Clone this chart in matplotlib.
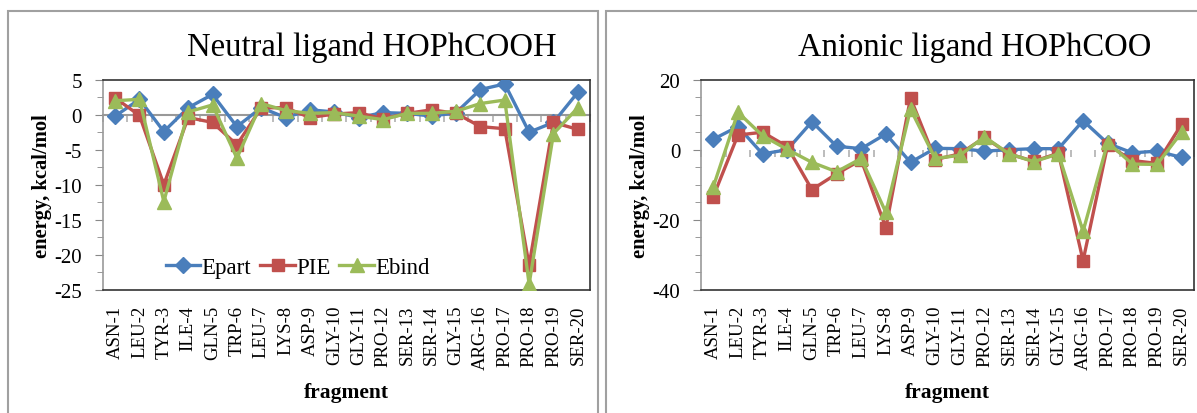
import matplotlib
matplotlib.use("Agg")
import matplotlib.pyplot as plt
from matplotlib.patches import Rectangle
from matplotlib.ticker import MultipleLocator

plt.rcParams["font.family"] = ["Liberation Serif", "DejaVu Serif"]
plt.rcParams["axes.unicode_minus"] = False

# -----------------------------------------------------------------------
# Data (kcal/mol)
# -----------------------------------------------------------------------
FRAGMENTS = ["ASN-1", "LEU-2", "TYR-3", "ILE-4", "GLN-5", "TRP-6", "LEU-7",
             "LYS-8", "ASP-9", "GLY-10", "GLY-11", "PRO-12", "SER-13",
             "SER-14", "GLY-15", "ARG-16", "PRO-17", "PRO-18", "PRO-19",
             "SER-20"]

neutral_epart = [-0.2, 2.2, -2.4, 1.0, 2.9, -1.7, 1.0, -0.4, 0.7, 0.4,
                 -0.4, 0.3, 0.2, -0.2, 0.3, 3.6, 4.4, -2.5, -1.1, 3.2]
neutral_pie = [2.4, -0.1, -10.0, -0.4, -1.1, -4.3, 1.0, 1.0, -0.4, 0.1,
               0.3, -0.6, 0.2, 0.7, 0.2, -1.7, -2.0, -21.5, -1.1, -2.1]
neutral_ebind = [2.0, 2.2, -12.4, 0.4, 1.4, -6.2, 1.6, 0.6, 0.2, 0.3,
                 -0.2, -0.7, 0.2, 0.2, 0.5, 1.6, 2.1, -24.2, -2.7, 1.0]

anionic_epart = [3.0, 6.6, -1.2, 0.0, 8.0, 1.0, 0.3, 4.5, -3.6, 0.4,
                 0.3, -0.4, 0.0, 0.3, 0.3, 8.3, 1.8, -0.9, -0.4, -2.2]
anionic_pie = [-13.4, 4.2, 5.0, 0.9, -11.4, -6.9, -2.9, -22.3, 14.8, -2.8,
               -1.2, 3.5, -1.2, -3.3, -1.0, -31.7, 1.4, -3.1, -3.9, 7.3]
anionic_ebind = [-10.6, 10.7, 4.0, 0.1, -3.6, -6.3, -2.5, -17.9, 11.6, -2.5,
                 -1.6, 3.7, -1.2, -3.4, -1.2, -23.3, 2.1, -4.1, -4.2, 5.0]

BLUE = "#4A7EBB"
RED = "#C0504D"
GREEN = "#9BBB59"


def draw_panel(ax, epart, pie, ebind, ylim, ymajor, yminor, zero_line):
    x = list(range(len(FRAGMENTS)))
    ax.plot(x, epart, "-D", color=BLUE, lw=2.4, ms=8, label="Epart", zorder=3)
    ax.plot(x, pie, "-s", color=RED, lw=2.4, ms=9, label="PIE", zorder=4)
    ax.plot(x, ebind, "-^", color=GREEN, lw=2.4, ms=10, label="Ebind", zorder=5)

    ax.set_xlim(-0.5, len(FRAGMENTS) - 0.5)
    ax.set_ylim(*ylim)
    ax.set_xticks(x)
    ax.set_xticklabels(FRAGMENTS, rotation=90, fontsize=13.5)
    ax.tick_params(axis="x", length=0, pad=11)
    ax.yaxis.set_major_locator(MultipleLocator(ymajor))
    ax.yaxis.set_minor_locator(MultipleLocator(yminor))
    ax.tick_params(axis="y", which="major", length=6, color="#888888",
                   labelsize=15, pad=9)
    ax.tick_params(axis="y", which="minor", length=4, color="#888888")

    for side in ["top", "right", "bottom"]:
        ax.spines[side].set_color("#333333")
        ax.spines[side].set_linewidth(1.2)
    ax.spines["left"].set_color("#999999")
    ax.spines["left"].set_linewidth(1.2)

    # category axis crossing at zero, with boundary ticks
    sec = ax.secondary_xaxis(0, transform=ax.transData)
    sec.set_xticks([i - 0.5 for i in range(len(FRAGMENTS) + 1)])
    sec.set_xticklabels([])
    sec.tick_params(axis="x", direction="out", length=5, color="#b0b0b0",
                    width=1.2)
    if zero_line:
        sec.spines["bottom"].set_color("#999999")
        sec.spines["bottom"].set_linewidth(1.5)
    else:
        sec.spines["bottom"].set_visible(False)

    ax.set_xlabel("fragment", fontsize=15.5, fontweight="bold")
    ax.xaxis.set_label_coords(0.5, -0.44)
    ax.set_ylabel("energy, kcal/mol", fontsize=14.8, fontweight="bold")


fig = plt.figure(figsize=(11.97, 4.14), dpi=100)

# panel frames
fig.patches.append(Rectangle((8 / 1197, -0.05), 590 / 1197, 1.05 - 12 / 414,
                             transform=fig.transFigure, fill=False,
                             edgecolor="#a0a0a0", lw=1.5))
fig.patches.append(Rectangle((606 / 1197, -0.05), 620 / 1197, 1.05 - 12 / 414,
                             transform=fig.transFigure, fill=False,
                             edgecolor="#a0a0a0", lw=1.5))

ax1 = fig.add_axes([0.0860, 0.2978, 0.4069, 0.5072])
draw_panel(ax1, neutral_epart, neutral_pie, neutral_ebind,
           (-25, 5), 5, 2.5, zero_line=True)
ax1.yaxis.set_label_coords(-0.105, 0.5)
ax1.legend(loc="center", bbox_to_anchor=(0.40, 0.108), ncol=3, frameon=False,
           fontsize=16.5, handlelength=1.5, handletextpad=0.05,
           columnspacing=0.4, borderpad=0)

ax2 = fig.add_axes([0.5856, 0.2978, 0.4119, 0.5072])
draw_panel(ax2, anionic_epart, anionic_pie, anionic_ebind,
           (-40, 20), 20, 5, zero_line=False)
ax2.yaxis.set_label_coords(-0.103, 0.5)

fig.text(0.311, 0.886, "Neutral ligand HOPhCOOH", fontsize=23.5,
         ha="center", va="center")
fig.text(0.8145, 0.886, "Anionic ligand HOPhCOO", fontsize=23.5,
         ha="center", va="center")

fig.savefig("out.png", dpi=100)
